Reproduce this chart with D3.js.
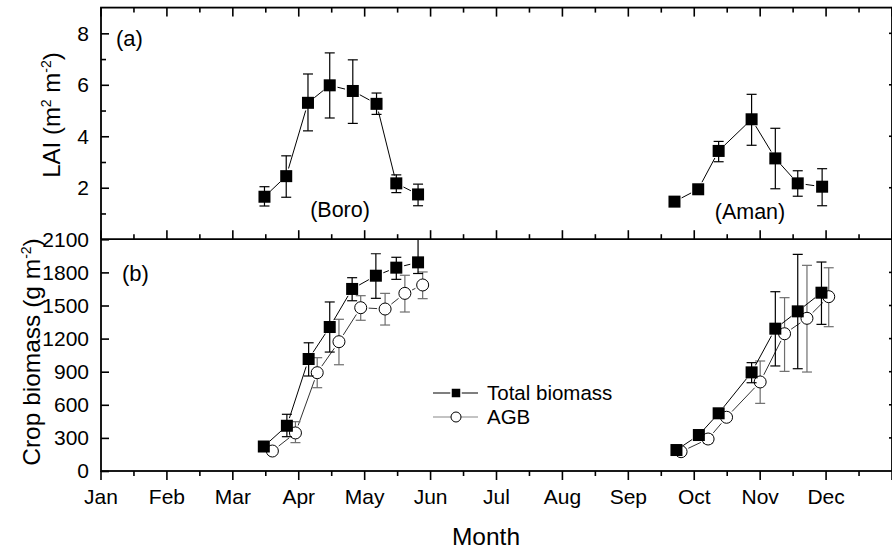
<!DOCTYPE html>
<html>
<head>
<meta charset="utf-8">
<script src="https://cdn.jsdelivr.net/npm/d3@7"></script>
<style>
  body { margin: 0; background: #fff; }
  svg text { font-family: "Liberation Sans", Arial, sans-serif; fill: #000; }
</style>
</head>
<body>
<div id="chart"></div>
<script>
// month positions: 0 = 1 Jan, 12 = end of Dec
const monthLabels = ['Jan', 'Feb', 'Mar', 'Apr', 'May', 'Jun', 'Jul', 'Aug', 'Sep', 'Oct', 'Nov', 'Dec'];

// (a) LAI
const laiBoroX  = [2.48, 2.81, 3.14, 3.47, 3.82, 4.18, 4.48, 4.81];
const laiBoro   = [1.65, 2.45, 5.30, 5.98, 5.76, 5.26, 2.17, 1.74];
const laiBoroHi = [2.04, 3.24, 6.42, 7.24, 6.97, 5.68, 2.50, 2.14];
const laiBoroLo = [1.29, 1.63, 4.21, 4.71, 4.50, 4.85, 1.81, 1.30];

const laiAmanX  = [8.70, 9.06, 9.37, 9.87, 10.23, 10.57, 10.94];
const laiAman   = [1.46, 1.94, 3.43, 4.66, 3.14, 2.17, 2.04];
const laiAmanHi = [null, null, 3.80, 5.63, 4.31, 2.66, 2.74];
const laiAmanLo = [null, null, 3.01, 3.65, 1.96, 1.67, 1.30];

// (b) crop biomass, g m-2
const totBoroX  = [2.47, 2.82, 3.15, 3.47, 3.81, 4.17, 4.48, 4.81];
const totBoro   = [222, 410, 1015, 1305, 1650, 1770, 1843, 1891];
const totBoroHi = [null, 514, 1162, 1532, 1752, 1969, 1937, 2120];
const totBoroLo = [null, 311, 861, 1078, 1543, 1565, 1737, 1790];

const agbBoroX  = [2.60, 2.95, 3.28, 3.61, 3.94, 4.31, 4.61, 4.88];
const agbBoro   = [181, 345, 891, 1172, 1480, 1468, 1610, 1686];
const agbBoroHi = [null, 447, 1027, 1375, 1589, 1610, 1774, 1804];
const agbBoroLo = [null, 257, 755, 963, 1366, 1323, 1441, 1562];

const totAmanX  = [8.73, 9.07, 9.37, 9.87, 10.23, 10.57, 10.93];
const totAman   = [190, 326, 523, 894, 1290, 1447, 1616];
const totAmanHi = [null, null, null, 982, 1625, 1964, 1894];
const totAmanLo = [null, null, null, 800, 952, 927, 1329];

const agbAmanX  = [8.80, 9.21, 9.49, 10.0, 10.37, 10.71, 11.04];
const agbAman   = [175, 290, 487, 807, 1244, 1384, 1580];
const agbAmanHi = [null, 330, null, 997, 1571, 1864, 1842];
const agbAmanLo = [null, 250, null, 613, 903, 897, 1308];

const W = 892, H = 549;
const left = 101, right = 892;
const topA = 7.6, botA = 239.2, topB = 239.3, botB = 471;

const svg = d3.select('#chart').append('svg')
    .attr('width', W).attr('height', H);

const x = d3.scaleLinear().domain([0, 12]).range([left, right]);
const yA = d3.scaleLinear().domain([0, 9]).range([botA, topA]);
const yB = d3.scaleLinear().domain([0, 2100]).range([botB, topB]);

svg.append('defs').append('clipPath').attr('id', 'clipB')
    .append('rect').attr('x', left).attr('y', topB).attr('width', right - left).attr('height', botB - topB);

const majors = d3.range(0, 13);
const minors = d3.range(0.5, 12, 1);

function xTicks(y0, dir) {
    // dir: +1 down, -1 up
    const g = svg.append('g');
    g.selectAll('.maj').data(majors).join('line')
        .attr('x1', d => x(d)).attr('x2', d => x(d))
        .attr('y1', y0).attr('y2', y0 + dir * 9)
        .attr('stroke', '#000').attr('stroke-width', 1.6);
    g.selectAll('.min').data(minors).join('line')
        .attr('x1', d => x(d)).attr('x2', d => x(d))
        .attr('y1', y0).attr('y2', y0 + dir * 5)
        .attr('stroke', '#000').attr('stroke-width', 1.6);
}

// frames
svg.append('rect').attr('x', left).attr('y', topA).attr('width', right - left).attr('height', botB - topA)
    .attr('fill', 'none').attr('stroke', '#000').attr('stroke-width', 1.8);
svg.append('line').attr('x1', left).attr('x2', right).attr('y1', botA).attr('y2', botA)
    .attr('stroke', '#000').attr('stroke-width', 1.8);

xTicks(topA, 1);
xTicks(botA, -1);
xTicks(botB, 1);

// bottom x labels
svg.append('g').selectAll('text').data(monthLabels).join('text')
    .attr('x', (d, i) => x(i)).attr('y', 504)
    .attr('text-anchor', 'middle').attr('font-size', 21)
    .text(d => d);

// y axes (a)
const axA = d3.axisLeft(yA).tickValues([2, 4, 6, 8]).tickSize(-8).tickPadding(12);
svg.append('g').attr('transform', `translate(${left},0)`).call(axA);
const axAm = d3.axisLeft(yA).tickValues([1, 3, 5, 7]).tickSize(-5).tickFormat('');
svg.append('g').attr('transform', `translate(${left},0)`).call(axAm);

// y axes (b)
const axB = d3.axisLeft(yB).tickValues(d3.range(0, 2101, 300)).tickSize(-8).tickPadding(12)
    .tickFormat(d3.format('d'));
svg.append('g').attr('transform', `translate(${left},0)`).call(axB);

svg.selectAll('.domain').remove();
svg.selectAll('.tick line').attr('stroke', '#000').attr('stroke-width', 1.6);
svg.selectAll('.tick text').attr('font-size', 21).attr('font-family', '"Liberation Sans", Arial, sans-serif');

// right side small ticks
const rTicks = [...[2, 4, 6, 8].map(v => yA(v)), ...d3.range(300, 2000, 300).map(v => yB(v))];
svg.append('g').selectAll('line').data(rTicks).join('line')
    .attr('x1', right - 3).attr('x2', right).attr('y1', d => d).attr('y2', d => d)
    .attr('stroke', '#000').attr('stroke-width', 1.6);

// series drawing
function drawSeries(xs, ys, his, los, yScale, opt) {
    const g = svg.append('g').attr('clip-path', opt.clip ? 'url(#clipB)' : null);
    const pts = xs.map((d, i) => ({ px: x(d), py: yScale(ys[i]), hi: his[i], lo: los[i] }));

    // connecting lines with a gap around markers
    const gap = 8;
    for (let i = 0; i < pts.length - 1; i++) {
        const a = pts[i], b = pts[i + 1];
        const dx = b.px - a.px, dy = b.py - a.py;
        const len = Math.hypot(dx, dy);
        if (len <= 2 * gap) continue;
        const ux = dx / len, uy = dy / len;
        g.append('line')
            .attr('x1', a.px + ux * gap).attr('y1', a.py + uy * gap)
            .attr('x2', b.px - ux * gap).attr('y2', b.py - uy * gap)
            .attr('stroke', opt.line).attr('stroke-width', 1);
    }

    // error bars
    pts.forEach(p => {
        if (p.hi == null) return;
        const yh = yScale(p.hi), yl = yScale(p.lo);
        g.append('line').attr('x1', p.px).attr('x2', p.px).attr('y1', yh).attr('y2', yl)
            .attr('stroke', opt.err).attr('stroke-width', 1.2);
        [yh, yl].forEach(yy => g.append('line')
            .attr('x1', p.px - 5).attr('x2', p.px + 5).attr('y1', yy).attr('y2', yy)
            .attr('stroke', opt.err).attr('stroke-width', 1.2));
    });

    // markers
    if (opt.shape === 'square') {
        g.selectAll('rect.m').data(pts).join('rect')
            .attr('x', d => d.px - 6).attr('y', d => d.py - 6)
            .attr('width', 12).attr('height', 12)
            .attr('fill', '#000');
    } else {
        g.selectAll('circle.m').data(pts).join('circle')
            .attr('cx', d => d.px).attr('cy', d => d.py).attr('r', 6)
            .attr('fill', '#fff').attr('stroke', '#000').attr('stroke-width', 1);
    }
}

drawSeries(laiBoroX, laiBoro, laiBoroHi, laiBoroLo, yA, { shape: 'square', line: '#000', err: '#000' });
drawSeries(laiAmanX, laiAman, laiAmanHi, laiAmanLo, yA, { shape: 'square', line: '#000', err: '#000' });

drawSeries(agbBoroX, agbBoro, agbBoroHi, agbBoroLo, yB, { shape: 'circle', line: '#333', err: '#6e6e6e', clip: true });
drawSeries(agbAmanX, agbAman, agbAmanHi, agbAmanLo, yB, { shape: 'circle', line: '#333', err: '#6e6e6e', clip: true });
drawSeries(totBoroX, totBoro, totBoroHi, totBoroLo, yB, { shape: 'square', line: '#000', err: '#000', clip: true });
drawSeries(totAmanX, totAman, totAmanHi, totAmanLo, yB, { shape: 'square', line: '#000', err: '#000', clip: true });

// panel labels
svg.append('text').attr('x', 116).attr('y', 46).attr('font-size', 22).text('(a)');
svg.append('text').attr('x', 122).attr('y', 281).attr('font-size', 22).text('(b)');
svg.append('text').attr('x', 340).attr('y', 217).attr('text-anchor', 'middle').attr('font-size', 21.5).text('(Boro)');
svg.append('text').attr('x', 750).attr('y', 219).attr('text-anchor', 'middle').attr('font-size', 21.5).text('(Aman)');

// legend
const leg = svg.append('g');
const legRows = [
    { y: 393, label: 'Total biomass', shape: 'square', line: '#000' },
    { y: 417, label: 'AGB', shape: 'circle', line: '#888' }
];
legRows.forEach(r => {
    leg.append('line').attr('x1', 433).attr('x2', 478).attr('y1', r.y).attr('y2', r.y)
        .attr('stroke', r.line).attr('stroke-width', 1.2);
    if (r.shape === 'square') {
        leg.append('rect').attr('x', 451).attr('y', r.y - 5).attr('width', 10).attr('height', 10)
            .attr('fill', '#000').attr('stroke', '#fff').attr('stroke-width', 1.5);
    } else {
        leg.append('circle').attr('cx', 456).attr('cy', r.y).attr('r', 5)
            .attr('fill', '#fff').attr('stroke', '#000').attr('stroke-width', 1);
    }
    leg.append('text').attr('x', 487).attr('y', r.y + 7).attr('font-size', 20.5).text(r.label);
});

// axis titles
svg.append('text').attr('x', 486).attr('y', 545).attr('text-anchor', 'middle').attr('font-size', 24.5).text('Month');

const laiT = svg.append('text').attr('text-anchor', 'middle').attr('font-size', 24)
    .attr('transform', 'translate(60,115) rotate(-90)');
laiT.append('tspan').text('LAI (m');
laiT.append('tspan').attr('dy', -9).attr('font-size', 14).text('2');
laiT.append('tspan').attr('dy', 9).text(' m');
laiT.append('tspan').attr('dy', -9).attr('font-size', 14).text('-2');
laiT.append('tspan').attr('dy', 9).text(')');

const bioT = svg.append('text').attr('text-anchor', 'middle').attr('font-size', 24.5)
    .attr('transform', 'translate(40,352) rotate(-90)');
bioT.append('tspan').text('Crop biomass (g m');
bioT.append('tspan').attr('dy', -9).attr('font-size', 14).text('-2');
bioT.append('tspan').attr('dy', 9).text(')');
</script>
</body>
</html>
